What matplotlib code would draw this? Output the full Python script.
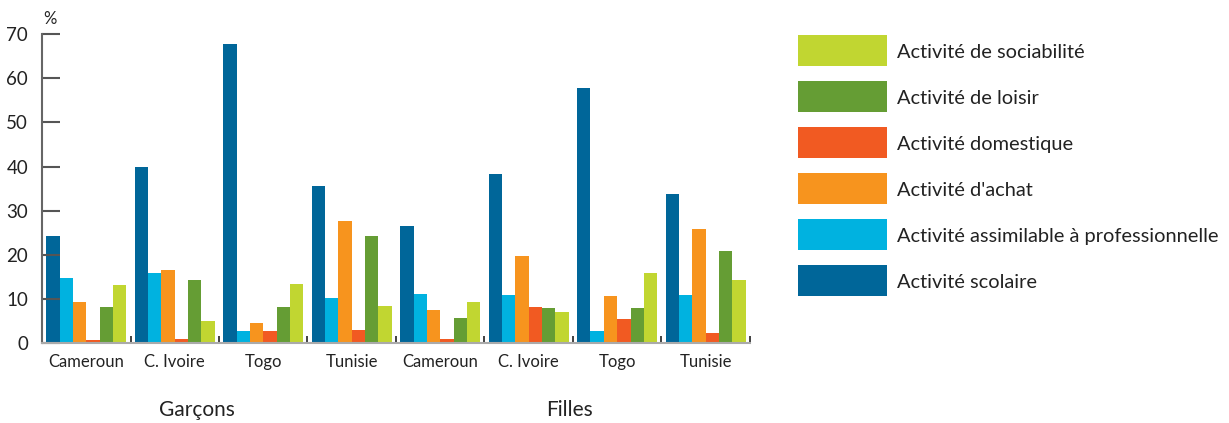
import matplotlib.pyplot as plt
from matplotlib.patches import Rectangle
import numpy as np

plt.rcParams['font.family'] = ['Lato', 'DejaVu Sans']

pays = ['Cameroun', 'C. Ivoire', 'Togo', 'Tunisie', 'Cameroun', 'C. Ivoire', 'Togo', 'Tunisie']
groupes = ['Garçons', 'Filles']

activites = ['Activité scolaire', 'Activité assimilable à professionnelle',
             "Activité d'achat", 'Activité domestique',
             'Activité de loisir', 'Activité de sociabilité']

scolaire = [24.2, 39.9, 67.8, 35.6, 26.5, 38.3, 57.8, 33.7]
professionnelle = [14.7, 15.8, 2.6, 10.1, 11.0, 10.8, 2.6, 10.8]
achat = [9.2, 16.5, 4.5, 27.6, 7.4, 19.7, 10.6, 25.8]
domestique = [0.6, 0.8, 2.6, 2.9, 0.8, 8.1, 5.4, 2.2]
loisir = [8.1, 14.2, 8.1, 24.2, 5.6, 7.9, 7.9, 20.8]
sociabilite = [13.1, 4.9, 13.3, 8.3, 9.2, 7.0, 15.8, 14.2]

couleurs = ['#006699', '#00B2E0', '#F7941E', '#F15A22', '#659D34', '#C1D631']

series = [scolaire, professionnelle, achat, domestique, loisir, sociabilite]

fig = plt.figure(figsize=(12.29, 4.23), dpi=100)
ax = fig.add_axes([0.0342, 0.1898, 0.576, 0.729])

x = np.arange(len(pays))
w = 0.151
for k, (vals, c) in enumerate(zip(series, couleurs)):
    ax.bar(x + (k - 2.5) * w, vals, w, color=c, linewidth=0)

ax.set_xlim(-0.5, len(pays) - 0.5)
ax.set_ylim(0, 70)
ax.set_yticks(range(0, 71, 10))
ax.tick_params(axis='y', direction='in', length=13, width=1.5, color='#555555',
               labelsize=13.5, labelcolor='#222222', pad=10)

# petites marques entre les groupes de pays
ax.set_xticks(x + 0.5, minor=True)
ax.set_xticks(x)
ax.set_xticklabels(pays)
ax.tick_params(axis='x', which='major', length=0, labelsize=12, labelcolor='#222222', pad=8)
ax.tick_params(axis='x', which='minor', direction='in', length=5, width=1.3, color='#333333')

for s in ['top', 'right']:
    ax.spines[s].set_visible(False)
ax.spines['left'].set_color('#666666')
ax.spines['left'].set_linewidth(1.5)
ax.spines['bottom'].set_color('#aaaaaa')
ax.spines['bottom'].set_linewidth(1.5)

fig.text(0.041, 0.955, '%', fontsize=12, color='#222222', ha='center', va='center')
fig.text(0.160, 0.03, groupes[0], fontsize=15, color='#222222', ha='center', va='center')
fig.text(0.463, 0.03, groupes[1], fontsize=15, color='#222222', ha='center', va='center')

# légende dessinée à la main, du haut vers le bas
W, H = 1229, 423
for i, k in enumerate(range(len(activites) - 1, -1, -1)):
    top = 35 + i * 46
    fig.patches.append(Rectangle((798 / W, 1 - (top + 31) / H), 89 / W, 31 / H,
                                 transform=fig.transFigure, color=couleurs[k], lw=0))
    fig.text(897 / W, 1 - (top + 17) / H, activites[k], fontsize=14.4,
             color='#222222', ha='left', va='center')

fig.savefig('out.png', dpi=100)
